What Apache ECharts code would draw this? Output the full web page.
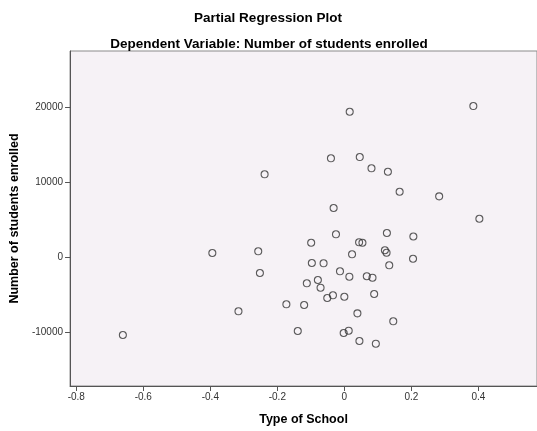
<!DOCTYPE html>
<html><head><meta charset="utf-8">
<script src="https://cdn.jsdelivr.net/npm/echarts@6/dist/echarts.min.js"></script>
<style>html,body{margin:0;padding:0;background:#fff}#c{width:537px;height:431px}</style>
</head><body><div id="c"></div>
<script>
const titleText = 'Partial Regression Plot';
const subtitleText = 'Dependent Variable: Number of students enrolled';
const xName = 'Type of School';
const yName = 'Number of students enrolled';
const xTicks = [-0.8, -0.6, -0.4, -0.2, 0, 0.2, 0.4];
const yTicks = [-10000, 0, 10000, 20000];
const typeOfSchool = [0.016,0.385,-0.040,0.046,0.081,-0.238,-0.032,0.130,0.165,0.283,0.403,0.127,0.206,0.121,0.126,-0.025,-0.099,0.044,0.054,-0.394,-0.257,-0.252,0.023,0.205,-0.097,-0.062,-0.013,0.015,0.067,0.084,0.134,-0.079,-0.112,-0.071,-0.034,-0.051,0.000,0.089,-0.173,-0.120,-0.316,0.039,0.146,-0.139,-0.002,0.013,0.045,0.094,-0.661];
const studentsEnrolled = [19410,20170,13200,13370,11870,11070,6570,11410,8745,8130,5145,3240,2770,940,615,3065,1945,2000,1945,575,800,-2095,400,-190,-760,-800,-1865,-2585,-2530,-2720,-1065,-3025,-3465,-4050,-5065,-5425,-5255,-4895,-6265,-6360,-7200,-7470,-8535,-9825,-10090,-9785,-11160,-11520,-10360];
const points = typeOfSchool.map((x,i)=>[x, studentsEnrolled[i]]);
const ff = '"Liberation Sans", Arial, sans-serif';
const chart = echarts.init(document.getElementById('c'), null, {renderer:'canvas'});
chart.setOption({
  animation:false,
  backgroundColor:'#ffffff',
  title:[
    {text:titleText, left:263, top:6, textAlign:'center', textStyle:{fontFamily:ff, fontSize:13.5, fontWeight:'bold', color:'#000'}},
    {text:subtitleText, left:264, top:32, textAlign:'center', textStyle:{fontFamily:ff, fontSize:13.5, fontWeight:'bold', color:'#000'}}
  ],
  grid:{left:64, top:51, width:478, height:335, show:true, backgroundColor:'#F6F2F6', borderColor:'#8a8a8a', borderWidth:1},
  xAxis:{
    type:'value', min:-0.8187, max:0.575,
    name:xName, nameLocation:'middle', nameGap:27,
    nameTextStyle:{fontFamily:ff, fontSize:12.5, fontWeight:'bold', color:'#000'},
    splitLine:{show:false},
    axisLine:{show:true, onZero:false, lineStyle:{color:'#555', width:1}},
    axisTick:{show:true, length:5, inside:false, customValues:xTicks, lineStyle:{color:'#555'}},
    axisLabel:{customValues:xTicks, fontFamily:ff, fontSize:10, color:'#333', margin:6, formatter:v=>String(Math.round(v*10)/10)}
  },
  yAxis:{
    type:'value', min:-17160, max:27510,
    name:yName, nameLocation:'middle', nameGap:41, nameRotate:90,
    nameTextStyle:{fontFamily:ff, fontSize:12.5, fontWeight:'bold', color:'#000'},
    splitLine:{show:false},
    axisLine:{show:true, onZero:false, lineStyle:{color:'#555', width:1}},
    axisTick:{show:true, length:5, inside:false, customValues:yTicks, lineStyle:{color:'#555'}},
    axisLabel:{customValues:yTicks, fontFamily:ff, fontSize:10, color:'#333', margin:7, formatter:v=>String(v)}
  },
  series:[{
    type:'scatter', data:points, symbol:'circle', symbolSize:7,
    itemStyle:{color:'rgba(0,0,0,0)', borderColor:'#333', borderWidth:1.1},
    emphasis:{disabled:true}
  }]
});
</script></body></html>
